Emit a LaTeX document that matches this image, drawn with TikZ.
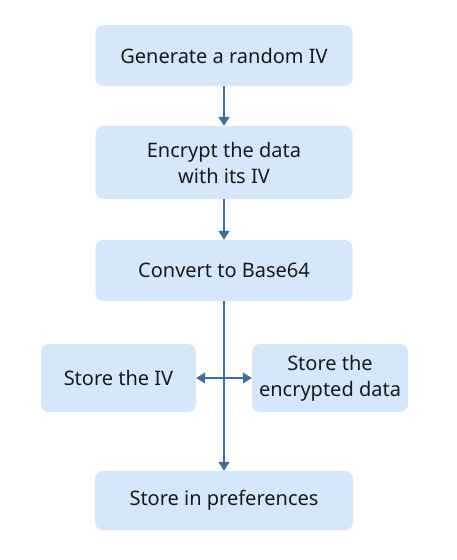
\documentclass[tikz,border=0pt]{standalone}
\usepackage{fontspec}
\setmainfont{Noto Sans}
\usetikzlibrary{arrows.meta}
\definecolor{boxfill}{HTML}{D7E7FB}
\definecolor{arrowc}{HTML}{3D6FA6}
\definecolor{txt}{HTML}{1A1A1A}
\begin{document}
\begin{tikzpicture}[x=1pt,y=-1pt,
  box/.style={draw=none,fill=boxfill,rounded corners=8pt,text=txt,align=center,font=\fontsize{20}{26}\selectfont,inner sep=0pt},
  conn/.style={draw=arrowc,line width=1.3pt,-{Triangle[length=9pt,width=11pt]}}]
\useasboundingbox (0,0) rectangle (456,560);
\fill[white] (0,0) rectangle (456,560);
\node[box,minimum width=257pt,minimum height=61pt] (gen) at (224,55.5) {Generate a random IV};
\node[box,minimum width=257pt,minimum height=73pt] (enc) at (224,162.5) {Encrypt the data\\with its IV};
\node[box,minimum width=257pt,minimum height=61pt] (b64) at (224,270.5) {Convert to Base64};
\node[box,minimum width=155pt,minimum height=68pt] (siv) at (118.5,378) {Store the IV};
\node[box,minimum width=156pt,minimum height=68pt] (sdata) at (330,378) {Store the\\encrypted data};
\node[box,minimum width=258pt,minimum height=59pt] (pref) at (224,500.5) {Store in preferences};
\draw[conn] (gen) -- (enc);
\draw[conn] (enc) -- (b64);
\draw[conn] (b64) -- (pref);
\draw[conn,{Triangle[length=9pt,width=11pt]}-{Triangle[length=9pt,width=11pt]}] (siv.east) -- (sdata.west);
\end{tikzpicture}
\end{document}
